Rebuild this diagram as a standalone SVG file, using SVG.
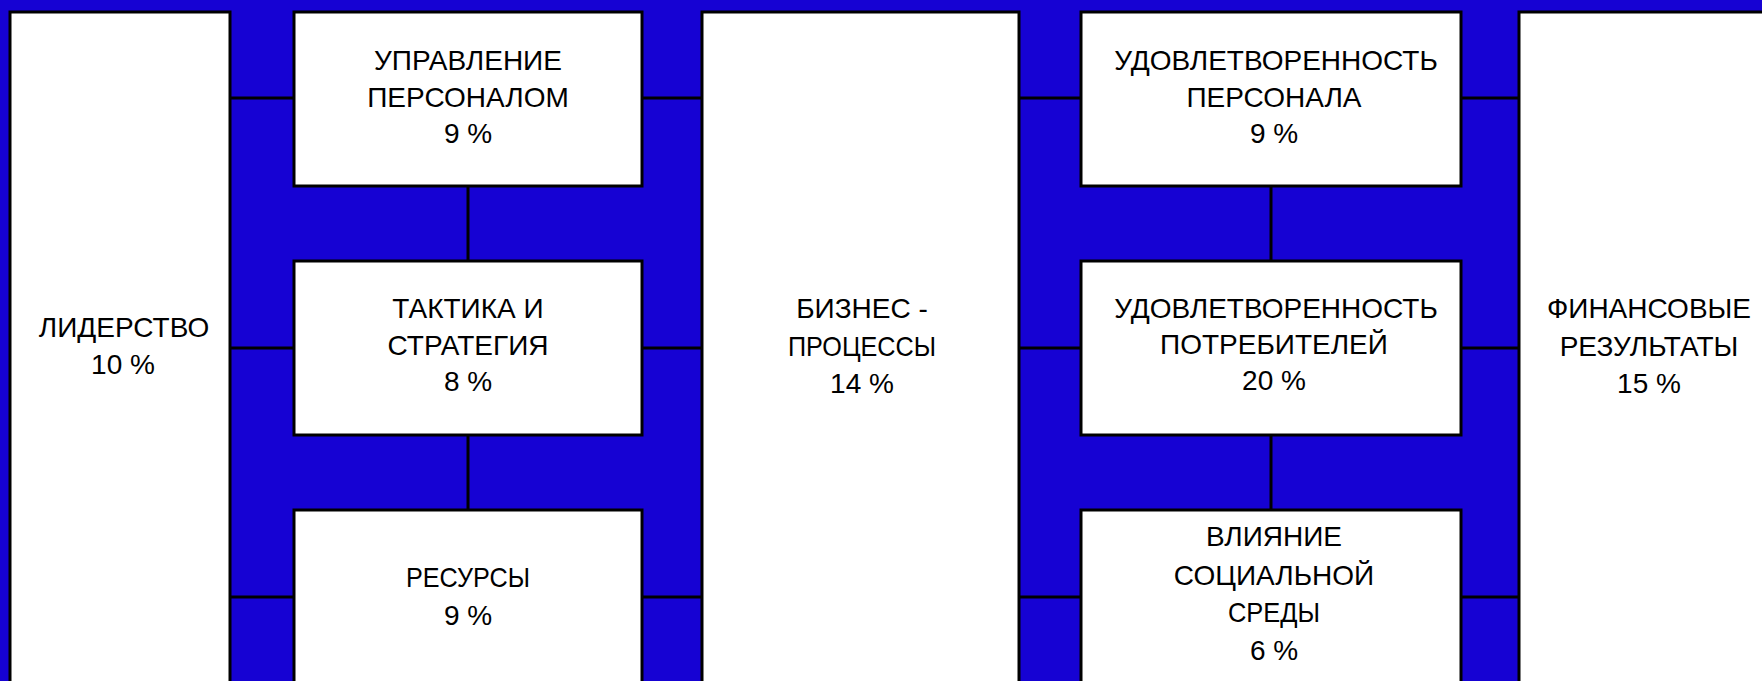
<svg xmlns="http://www.w3.org/2000/svg" width="1762" height="681" viewBox="0 0 1762 681">
<style>
.bg{fill:#1602D3}
.box{fill:#ffffff;stroke:#000000;stroke-width:3}
.conn line{stroke:#000000;stroke-width:3}
text{font-family:"Liberation Sans",Arial,sans-serif;font-size:28px;fill:#000000;text-anchor:middle}
</style>
<rect class="bg" x="0" y="0" width="1762" height="681"/>
<g id="connectors" class="conn">
<line x1="230" y1="98" x2="294" y2="98"/>
<line x1="230" y1="348" x2="294" y2="348"/>
<line x1="230" y1="597" x2="294" y2="597"/>
<line x1="642" y1="98" x2="702" y2="98"/>
<line x1="642" y1="348" x2="702" y2="348"/>
<line x1="642" y1="597" x2="702" y2="597"/>
<line x1="1019" y1="98" x2="1081" y2="98"/>
<line x1="1019" y1="348" x2="1081" y2="348"/>
<line x1="1019" y1="597" x2="1081" y2="597"/>
<line x1="1461" y1="98" x2="1519" y2="98"/>
<line x1="1461" y1="348" x2="1519" y2="348"/>
<line x1="1461" y1="597" x2="1519" y2="597"/>
<line x1="468" y1="186" x2="468" y2="261"/>
<line x1="468" y1="435" x2="468" y2="510"/>
<line x1="1271" y1="186" x2="1271" y2="261"/>
<line x1="1271" y1="435" x2="1271" y2="510"/>
</g>
<g id="leadership">
<rect class="box" x="10" y="12" width="220" height="690"/>
<text x="124" y="337">ЛИДЕРСТВО</text>
<text x="123" y="374">10 %</text>
</g>
<g id="personnel-management">
<rect class="box" x="294" y="12" width="348" height="174"/>
<text x="468" y="70">УПРАВЛЕНИЕ</text>
<text x="468" y="107">ПЕРСОНАЛОМ</text>
<text x="468" y="143">9 %</text>
</g>
<g id="tactics-strategy">
<rect class="box" x="294" y="261" width="348" height="174"/>
<text x="468" y="318">ТАКТИКА И</text>
<text x="468" y="355">СТРАТЕГИЯ</text>
<text x="468" y="391">8 %</text>
</g>
<g id="resources">
<rect class="box" x="294" y="510" width="348" height="190"/>
<text x="468" y="587" textLength="124" lengthAdjust="spacingAndGlyphs">РЕСУРСЫ</text>
<text x="468" y="625">9 %</text>
</g>
<g id="business-processes">
<rect class="box" x="702" y="12" width="317" height="690"/>
<text x="862" y="318">БИЗНЕС -</text>
<text x="862" y="356" textLength="148" lengthAdjust="spacingAndGlyphs">ПРОЦЕССЫ</text>
<text x="862" y="393">14 %</text>
</g>
<g id="personnel-satisfaction">
<rect class="box" x="1081" y="12" width="380" height="174"/>
<text x="1276" y="70">УДОВЛЕТВОРЕННОСТЬ</text>
<text x="1274" y="107">ПЕРСОНАЛА</text>
<text x="1274" y="143">9 %</text>
</g>
<g id="customer-satisfaction">
<rect class="box" x="1081" y="261" width="380" height="174"/>
<text x="1276" y="318">УДОВЛЕТВОРЕННОСТЬ</text>
<text x="1274" y="354">ПОТРЕБИТЕЛЕЙ</text>
<text x="1274" y="390">20 %</text>
</g>
<g id="social-impact">
<rect class="box" x="1081" y="510" width="380" height="190"/>
<text x="1274" y="546">ВЛИЯНИЕ</text>
<text x="1274" y="585">СОЦИАЛЬНОЙ</text>
<text x="1274" y="622" textLength="92" lengthAdjust="spacingAndGlyphs">СРЕДЫ</text>
<text x="1274" y="660">6 %</text>
</g>
<g id="financial-results">
<rect class="box" x="1519" y="12" width="300" height="690"/>
<text x="1649" y="318">ФИНАНСОВЫЕ</text>
<text x="1649" y="356">РЕЗУЛЬТАТЫ</text>
<text x="1649" y="393">15 %</text>
</g>
</svg>
